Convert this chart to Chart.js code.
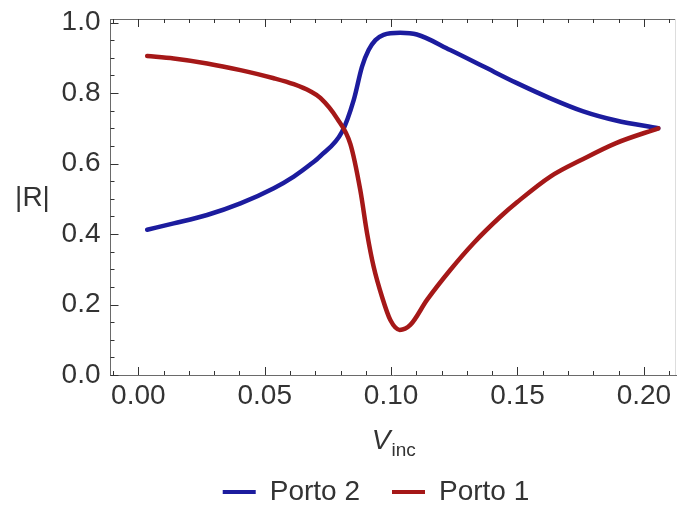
<!DOCTYPE html>
<html><head><meta charset="utf-8">
<script src="https://cdn.jsdelivr.net/npm/chart.js@4.4.1/dist/chart.umd.min.js"></script>
<style>html,body{margin:0;padding:0;background:#fff}#wrap{width:679px;height:510px;position:relative}</style>
</head><body><div id="wrap"><canvas id="c"></canvas></div>
<script>
const seriesNames = ['Porto 2', 'Porto 1'];
const xTickValues = [0, 0.05, 0.10, 0.15, 0.20];
const xTickLabels = ['0.00', '0.05', '0.10', '0.15', '0.20'];
const xMinorTicks = [-0.01, 0.01, 0.02, 0.03, 0.04, 0.06, 0.07, 0.08, 0.09, 0.11, 0.12, 0.13, 0.14, 0.16, 0.17, 0.18, 0.19, 0.21];
const yTickValues = [0, 0.2, 0.4, 0.6, 0.8, 1.0];
const yTickLabels = ['0.0', '0.2', '0.4', '0.6', '0.8', '1.0'];
const yMinorTicks = [0.05, 0.1, 0.15, 0.25, 0.3, 0.35, 0.45, 0.5, 0.55, 0.65, 0.7, 0.75, 0.85, 0.9, 0.95];

const porto2X = [0.0035, 0.014, 0.0272, 0.0404, 0.0536, 0.0615, 0.068, 0.072, 0.0806, 0.0852, 0.0885, 0.0911, 0.0938, 0.097, 0.1036, 0.1102, 0.1234, 0.1366, 0.1498, 0.163, 0.176, 0.189, 0.2057];
const porto2Y = [0.412, 0.430, 0.454, 0.487, 0.530, 0.563, 0.597, 0.621, 0.690, 0.780, 0.875, 0.922, 0.950, 0.965, 0.971, 0.966, 0.922, 0.875, 0.828, 0.785, 0.748, 0.722, 0.700];
const porto1X = [0.0035, 0.014, 0.0272, 0.0404, 0.0536, 0.0615, 0.068, 0.072, 0.0786, 0.0839, 0.0878, 0.0905, 0.0931, 0.0964, 0.0997, 0.1034, 0.1076, 0.1142, 0.1234, 0.1326, 0.1432, 0.1498, 0.163, 0.176, 0.189, 0.2057];
const porto1Y = [0.905, 0.898, 0.884, 0.865, 0.842, 0.825, 0.805, 0.786, 0.728, 0.655, 0.525, 0.402, 0.307, 0.222, 0.156, 0.128, 0.142, 0.213, 0.298, 0.374, 0.449, 0.490, 0.563, 0.613, 0.658, 0.700];

const BLUE = '#1c1c9e';
const RED = '#a51818';
const FONT = '"Liberation Sans", Arial, sans-serif';
const TEXT = '#333333';

Chart.defaults.font.family = FONT;

const legendPlace = {
  id: 'legendPlace',
  afterLayout(chart) {
    const lg = chart.legend;
    if (!lg) return;
    lg.left += 76;
    lg.top += 6; lg.bottom += 6;
  }
};

const framePlugin = {
  id: 'framePlugin',
  afterDraw(chart) {
    const {ctx, chartArea: {left, right, top, bottom}, scales: {x, y}} = chart;
    ctx.save();
    ctx.lineWidth = 1;
    ctx.strokeStyle = '#6a6a6a';
    ctx.beginPath();
    ctx.moveTo(left, top + 0.5); ctx.lineTo(right, top + 0.5);
    ctx.stroke();
    ctx.strokeStyle = '#dddddd';
    ctx.beginPath();
    ctx.moveTo(right - 0.5, top); ctx.lineTo(right - 0.5, bottom);
    ctx.stroke();
    ctx.strokeStyle = '#333';
    ctx.beginPath();
    const xt = (v, len) => {
      const p = Math.round(x.getPixelForValue(v)) + 0.5;
      if (p < left || p > right) return;
      ctx.moveTo(p, bottom); ctx.lineTo(p, bottom - len);
      ctx.moveTo(p, top); ctx.lineTo(p, top + len);
    };
    const yt = (v, len) => {
      const p = Math.round(y.getPixelForValue(v)) + 0.5;
      ctx.moveTo(left, p); ctx.lineTo(left + len, p);
    };
    xTickValues.forEach(v => xt(v, 8));
    xMinorTicks.forEach(v => xt(v, 4));
    yTickValues.forEach(v => yt(v, 8));
    yMinorTicks.forEach(v => yt(v, 4));
    ctx.stroke();

    // axis titles
    ctx.fillStyle = TEXT;
    ctx.font = '28px ' + FONT;
    ctx.textAlign = 'center';
    ctx.textBaseline = 'middle';
    ctx.fillText('|R|', left - 78, y.getPixelForValue(0.5));

    ctx.textAlign = 'left';
    ctx.textBaseline = 'alphabetic';
    const fV = 'italic 28px ' + FONT, fS = '19px ' + FONT;
    ctx.font = fV; const wV = ctx.measureText('V').width;
    ctx.font = fS; const wS = ctx.measureText('inc').width;
    const cx = (left + right) / 2;
    const sx = cx - (wV + wS) / 2;
    ctx.font = fV; ctx.fillText('V', sx, bottom + 74);
    ctx.font = fS; ctx.fillText('inc', sx + wV + 1, bottom + 81);
    ctx.restore();
  }
};

new Chart(document.getElementById('c'), {
  type: 'line',
  data: {
    datasets: [
      { label: seriesNames[0], data: porto2X.map((v, i) => ({x: v, y: porto2Y[i]})),
        borderColor: BLUE, backgroundColor: BLUE, borderWidth: 4.5, pointRadius: 0,
        cubicInterpolationMode: 'monotone', borderCapStyle: 'round', borderJoinStyle: 'round', order: 1 },
      { label: seriesNames[1], data: porto1X.map((v, i) => ({x: v, y: porto1Y[i]})),
        borderColor: RED, backgroundColor: RED, borderWidth: 4.5, pointRadius: 0,
        cubicInterpolationMode: 'monotone', borderCapStyle: 'round', borderJoinStyle: 'round', order: 0 }
    ]
  },
  options: {
    responsive: true, maintainAspectRatio: false, animation: false, devicePixelRatio: 1,
    layout: { padding: { left: 0, right: 3, top: 19, bottom: 0 } },
    scales: {
      x: {
        type: 'linear', min: -0.011, max: 0.2127,
        afterBuildTicks: s => { s.ticks = xTickValues.map(v => ({value: v})); },
        afterFit: s => { s.height = 65; },
        grid: { display: false, drawTicks: false },
        border: { display: true, color: '#6a6a6a', width: 1 },
        ticks: { autoSkip: false, maxRotation: 0, padding: 4, color: TEXT, font: { size: 28 },
                 callback: (v, i) => xTickLabels[i] }
      },
      y: {
        type: 'linear', min: 0, max: 1.01,
        afterBuildTicks: s => { s.ticks = yTickValues.map(v => ({value: v})); },
        afterFit: s => { s.width = 110.5; },
        grid: { display: false, drawTicks: false },
        border: { display: true, color: '#6a6a6a', width: 1 },
        ticks: { padding: 10, color: TEXT, font: { size: 28, lineHeight: 0.6 }, callback: (v, i) => yTickLabels[i] }
      }
    },
    plugins: {
      tooltip: { enabled: false },
      legend: {
        position: 'bottom',
        labels: {
          boxWidth: 33, boxHeight: 4, padding: 32, color: TEXT, font: { size: 28 },
          sort: (a, b) => a.datasetIndex - b.datasetIndex,
          generateLabels: ch => Chart.defaults.plugins.legend.labels.generateLabels(ch).map(l => ({...l, lineWidth: 0}))
        }
      }
    }
  },
  plugins: [legendPlace, framePlugin]
});
</script>
</body></html>
